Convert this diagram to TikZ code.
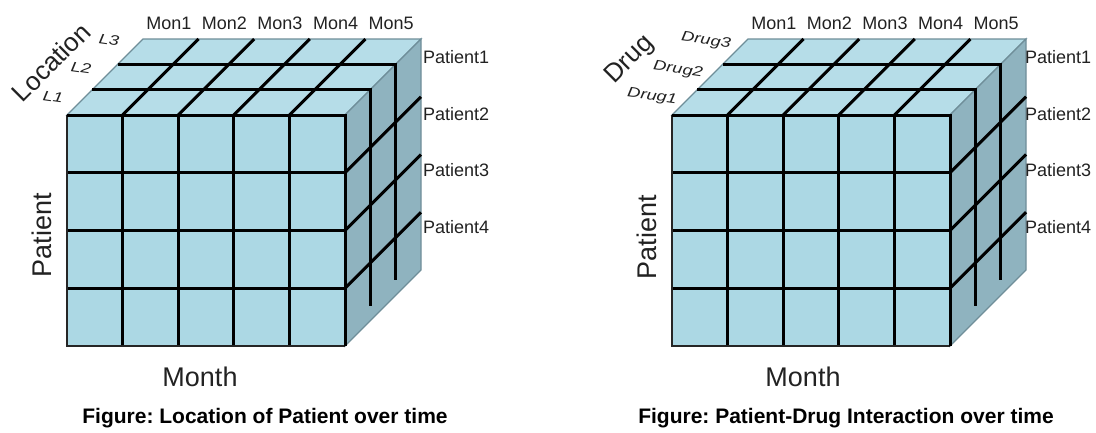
\documentclass[tikz,border=0pt]{standalone}
\usepackage{fontspec}
\setmainfont{Liberation Sans}
\usetikzlibrary{positioning, calc}

\definecolor{frontblue}{HTML}{ACD8E4}
\definecolor{topblue}{HTML}{B6DDE8}
\definecolor{sideblue}{HTML}{8FB3BF}
\definecolor{edgegrey}{HTML}{6F8E99}
\definecolor{labelgrey}{HTML}{222222}

% one data cube, front-top-left corner at the origin of the scope
\newcommand{\cubebody}{%
  \filldraw[cubeedge, fill=topblue] (0,0) -- (76,-76) -- (354,-76) -- (278,0) -- cycle;
  \filldraw[cubeedge, fill=sideblue] (278,0) -- (354,-76) -- (354,155) -- (278,231) -- cycle;
  \fill[frontblue] (0,0) rectangle (278,231);
  \foreach \i in {1,...,4} \draw[gridline] (\i*55.6,0) -- ++(76,-76);
  \foreach \k in {1,2} \draw[gridline] (\k*25.33,-\k*25.33) -- ++(278,0) -- ++(0,216);
  \foreach \j in {1,2,3} \draw[gridline] (278,\j*57.75) -- ++(76,-76);
  \foreach \i in {1,...,4} \draw[gridline] (\i*55.6,0) -- (\i*55.6,231);
  \foreach \j in {1,2,3} \draw[gridline] (0,\j*57.75) -- (278,\j*57.75);
  \draw[frontedge] (0,0) -- (0,231) -- (278,231);
  \draw[gridline] (0,0) -- (278,0) -- (278,231);
}

\begin{document}
\begin{tikzpicture}[x=1pt, y=-1pt,
    gridline/.style={line width=3pt, black, line join=miter},
    frontedge/.style={line width=2pt, black!85},
    cubeedge/.style={draw=edgegrey, line width=1.2pt},
    monlabel/.style={font=\fontsize{18}{21}\selectfont, text=labelgrey, inner sep=0pt},
    patlabel/.style={font=\fontsize{18}{21}\selectfont, text=labelgrey, anchor=west, inner sep=0pt},
    layerlabel/.style={font=\fontsize{14}{16}\selectfont\itshape, text=labelgrey, rotate=-8, inner sep=0pt},
    axislabel/.style={font=\fontsize{27}{31}\selectfont, text=labelgrey, inner sep=0pt},
    captionlabel/.style={font=\fontsize{21}{24}\selectfont\bfseries\frenchspacing, inner sep=0pt}]
    \useasboundingbox[fill=white] (0,0) rectangle (1096,432);

    % location cube
    \begin{scope}[shift={(67,115)}]
        \cubebody
        \foreach \i in {1,...,5}
            \node[monlabel] (locmon\i) at ({101.8+55.6*(\i-1)},-92) {Mon\i};
        \foreach \j in {1,...,4}
            \node[patlabel] (locpat\j) at (356,{-58+56.7*(\j-1)}) {Patient\j};
        \node[layerlabel] (locl1) at (-14,-18) {\scalebox{1.3}[1]{L1}};
        \node[layerlabel] (locl2) at (14,-47) {\scalebox{1.3}[1]{L2}};
        \node[layerlabel] (locl3) at (42,-75) {\scalebox{1.3}[1]{L3}};
        \node[axislabel, rotate=45, font=\fontsize{26}{30}\selectfont] (locaxis) at (-16,-53) {Location};
        \node[axislabel, rotate=90] (locpatient) at (-25,120) {Patient};
        \node[axislabel] (locmonth) at (133,262) {Month};
        \node[captionlabel] (loccaption) at (198,303) {Figure: Location of Patient over time};
    \end{scope}

    % drug cube
    \begin{scope}[shift={(672,115)}]
        \cubebody
        \foreach \i in {1,...,5}
            \node[monlabel] (drugmon\i) at ({101.8+55.6*(\i-1)},-92) {Mon\i};
        \foreach \j in {1,...,4}
            \node[patlabel] (drugpat\j) at (353,{-58+56.7*(\j-1)}) {Patient\j};
        \node[layerlabel] (drugl1) at (-20,-18) {\scalebox{1.3}[1]{Drug1}};
        \node[layerlabel] (drugl2) at (6,-45) {\scalebox{1.3}[1]{Drug2}};
        \node[layerlabel] (drugl3) at (34,-74) {\scalebox{1.3}[1]{Drug3}};
        \node[axislabel, rotate=45, font=\fontsize{26}{30}\selectfont] (drugaxis) at (-42,-55) {Drug};
        \node[axislabel, rotate=90] (drugpatient) at (-25,122) {Patient};
        \node[axislabel] (drugmonth) at (131,262) {Month};
        \node[captionlabel] (drugcaption) at (174,303) {Figure: Patient-Drug Interaction over time};
    \end{scope}
\end{tikzpicture}
\end{document}
